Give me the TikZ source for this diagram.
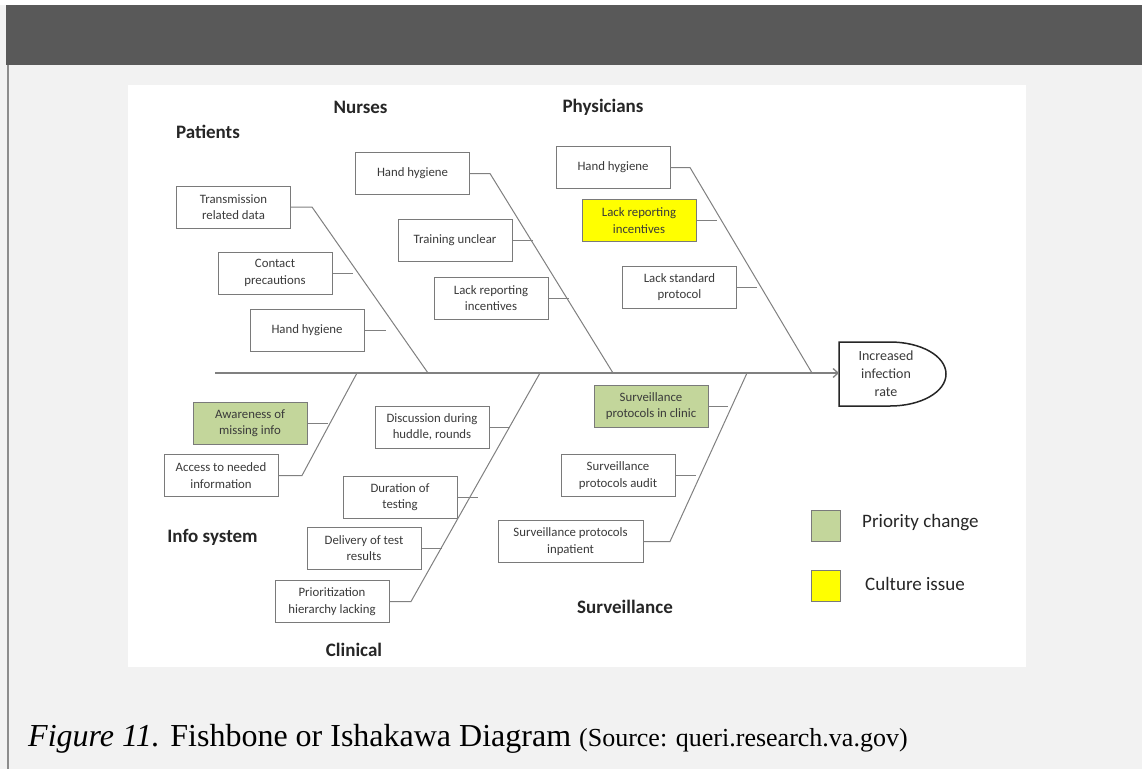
\documentclass[tikz,border=0pt]{standalone}
\usepackage{fontspec}
\setmainfont{Liberation Serif}
\newfontfamily\calibri{Carlito}
\usetikzlibrary{arrows.meta,calc}

\definecolor{barcol}{HTML}{595959}
\definecolor{pagebg}{HTML}{F2F2F2}
\definecolor{edgecol}{HTML}{8C8C8C}
\definecolor{linecol}{HTML}{808080}
\definecolor{boxedge}{HTML}{7A7A7A}
\definecolor{txtcol}{HTML}{3A3A3A}
\definecolor{lblcol}{HTML}{262626}
\definecolor{prio}{HTML}{C3D69B}
\definecolor{cult}{HTML}{FFFF00}

\begin{document}
\begin{tikzpicture}[x=1pt,y=-1pt,
  cause/.style={draw=boxedge, line width=1pt, fill=white, minimum width=114pt,
    minimum height=42pt, inner sep=2pt, align=center, text=txtcol,
    font=\calibri\fontsize{12.8}{16.5}\selectfont},
  widecause/.style={cause, minimum width=145pt},
  prioritybox/.style={cause, fill=prio},
  culturebox/.style={cause, fill=cult},
  catlabel/.style={font=\calibri\bfseries\fontsize{19}{22}\selectfont, text=lblcol, inner sep=0pt},
  legendtext/.style={font=\calibri\fontsize{19}{22}\selectfont, text=lblcol, inner sep=0pt, anchor=west},
  legendsq/.style={draw=boxedge, line width=1pt, minimum width=29pt, minimum height=31pt, inner sep=0pt},
  bone/.style={draw=linecol, line width=1pt},
  headline/.style={draw=black!85, line width=1.5pt},
]
\useasboundingbox (0,0) rectangle (1142,769);

% page background, header bar and left rule
\fill[pagebg] (0,0) rectangle (1142,769);
\fill[white] (0,0) rectangle (1142,5);
\fill[barcol] (6,5) rectangle (1142,65);
\fill[edgecol] (7,65) rectangle (9,769);

% white panel holding the diagram
\fill[white] (128,85) rectangle (1026,667);

% effect at the head of the fish
\node[minimum width=92pt, minimum height=64pt, inner sep=0pt, align=center,
      text=txtcol, font=\calibri\fontsize{14}{18}\selectfont] (head) at (886,374)
      {Increased\\infection\\rate};
\draw[headline] (839,342) -- (890,342)
   .. controls (921,342) and (946,356) .. (946,374)
   .. controls (946,392) and (921,406) .. (890,406)
   -- (839,406) -- cycle;

% spine
\coordinate (tail) at (215,373);
\coordinate (tip) at (839,373);
\draw[bone, line width=1.3pt, -{Straight Barb[length=5pt,width=9pt]}] (tail) -- (tip);

% category labels
\node[catlabel] (lpat) at (208,132) {Patients};
\node[catlabel] (lnur) at (360.5,107) {Nurses};
\node[catlabel] (lphy) at (603,107) {Physicians};
\node[catlabel] (linf) at (212.5,537) {Info system};
\node[catlabel] (lcli) at (354,650) {Clinical};
\node[catlabel] (lsur) at (625,607) {Surveillance};

% Patients
\node[cause] (trans) at (233.5,207) {Transmission\\related data};
\node[cause] (contact) at (275,273) {Contact\\precautions};
\node[cause] (phh) at (307,330) {Hand hygiene};
\coordinate (pT) at (312,207);
\coordinate (pB) at (428,373);
\coordinate (pS1) at (353,273);
\coordinate (pS2) at (386,330);
\draw[bone] (trans.east) -- (pT) -- (pB);
\draw[bone] (contact.east) -- (pS1);
\draw[bone] (phh.east) -- (pS2);

% Nurses
\node[cause] (nhh) at (412.5,173.5) {Hand hygiene};
\node[cause] (ntrain) at (455,240.5) {Training unclear};
\node[cause] (nlack) at (491,298) {Lack reporting\\incentives};
\coordinate (nT) at (490,173.5);
\coordinate (nB) at (613,373);
\coordinate (nS1) at (533,240.5);
\coordinate (nS2) at (569,298);
\draw[bone] (nhh.east) -- (nT) -- (nB);
\draw[bone] (ntrain.east) -- (nS1);
\draw[bone] (nlack.east) -- (nS2);

% Physicians
\node[cause] (phand) at (613,167.5) {Hand hygiene};
\node[culturebox] (plack) at (639,220.5) {Lack reporting\\incentives};
\node[cause] (pstd) at (679.5,287) {Lack standard\\protocol};
\coordinate (phT) at (690,167.5);
\coordinate (phB) at (812,373);
\coordinate (phS1) at (717,220.5);
\coordinate (phS2) at (757,287);
\draw[bone] (phand.east) -- (phT) -- (phB);
\draw[bone] (plack.east) -- (phS1);
\draw[bone] (pstd.east) -- (phS2);

% Info system
\node[prioritybox] (aware) at (250,423) {Awareness of\\missing info};
\node[cause] (access) at (221,475.5) {Access to needed\\information};
\coordinate (iT) at (357,373);
\coordinate (iB) at (302,475.5);
\coordinate (iS1) at (328,423);
\draw[bone] (access.east) -- (iB) -- (iT);
\draw[bone] (aware.east) -- (iS1);

% Clinical
\node[cause] (disc) at (432,427) {Discussion during\\huddle, rounds};
\node[cause] (dur) at (400,497) {Duration of\\testing};
\node[cause] (deliv) at (364,548) {Delivery of test\\results};
\node[cause] (prior) at (332,601.5) {Prioritization\\hierarchy lacking};
\coordinate (cT) at (540,373);
\coordinate (cB) at (411,601.5);
\coordinate (cS1) at (510,427);
\coordinate (cS2) at (478,497);
\coordinate (cS3) at (442,548);
\draw[bone] (prior.east) -- (cB) -- (cT);
\draw[bone] (disc.east) -- (cS1);
\draw[bone] (dur.east) -- (cS2);
\draw[bone] (deliv.east) -- (cS3);

% Surveillance
\node[prioritybox] (sclinic) at (651,406) {Surveillance\\protocols in clinic};
\node[cause] (saudit) at (618,475.5) {Surveillance\\protocols audit};
\node[widecause] (sinp) at (570.5,541.5) {Surveillance protocols\\inpatient};
\coordinate (sT) at (747,373);
\coordinate (sB) at (670,541.5);
\coordinate (sS1) at (728,406);
\coordinate (sS2) at (696,475.5);
\draw[bone] (sinp.east) -- (sB) -- (sT);
\draw[bone] (sclinic.east) -- (sS1);
\draw[bone] (saudit.east) -- (sS2);

% legend
\node[legendsq, fill=prio] (sqprio) at (825.5,526) {};
\node[legendtext] (tprio) at (862,523) {Priority change};
\node[legendsq, fill=cult] (sqcult) at (825.5,585.5) {};
\node[legendtext] (tcult) at (865,584) {Culture issue};

% caption
\node[anchor=base west, inner sep=0pt] (caption) at (28,746)
  {\fontsize{32}{38}\selectfont\textit{Figure 11.} Fishbone or Ishakawa Diagram
   {\fontsize{26}{30}\selectfont(Source: queri.research.va.gov)}};
\end{tikzpicture}
\end{document}
